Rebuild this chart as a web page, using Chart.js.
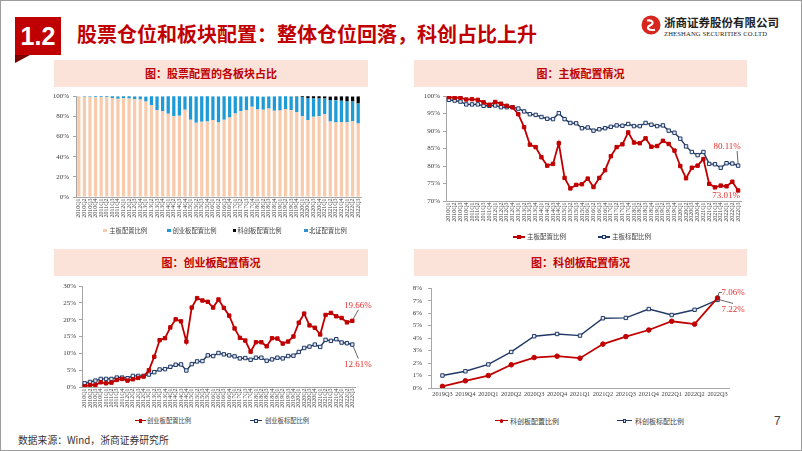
<!DOCTYPE html>
<html lang="zh"><head><meta charset="utf-8">
<title>股票仓位和板块配置</title>
<script src="https://cdn.jsdelivr.net/npm/chart.js@4.4.1/dist/chart.umd.min.js"></script>
<style>
*{box-sizing:border-box}
html,body{margin:0;padding:0;background:#fff}
#slide{position:relative;width:802px;height:451px;overflow:hidden;background:#fff;font-family:"Noto Sans CJK SC","Noto Sans",sans-serif}
#frame{position:absolute;left:0;top:0;width:802px;height:451px;border:1px solid #9c9c9c;pointer-events:none;z-index:10}
.abs{position:absolute}
#num{left:15px;top:17px;width:46px;height:38px;background:#c00000;color:#fff;font:bold 25px "Liberation Sans",Arial,sans-serif;line-height:38px;text-align:center}
#fold{left:15px;top:55px;width:0;height:0;border-top:8px solid #7a0000;border-right:15px solid transparent}
#title{left:77px;top:20px;font-size:20px;font-weight:bold;color:#c00000;line-height:28px;white-space:nowrap}
#co{left:664px;top:15px;font-size:11.5px;font-weight:bold;color:#222;line-height:14px;white-space:nowrap}
#coen{left:664px;top:30px;font:6.6px "Liberation Serif",serif;color:#222;line-height:8px;white-space:nowrap;letter-spacing:0.15px}
.tb{position:absolute;height:27px;line-height:27px;background:#fbe3da;color:#c00000;font-size:11px;font-weight:bold;text-align:center}
.lgt{color:#404040;white-space:nowrap}
#src{left:18px;top:432px;font-size:9.8px;color:#333;line-height:16px;white-space:nowrap}
#pg{left:774px;top:413px;font:12px "Liberation Sans",Arial,sans-serif;color:#444;line-height:16px}
canvas{position:absolute}
</style>
</head>
<body>
<div id="slide">
  <div id="frame"></div>
  <div id="num" class="abs">1.2</div>
  <div id="fold" class="abs"></div>
  <div id="title" class="abs">股票仓位和板块配置：整体仓位回落，科创占比上升</div>
  <svg class="abs" style="left:641px;top:15px" width="20" height="20" viewBox="0 0 20 20">
    <circle cx="10" cy="10" r="9.5" fill="#d7261e"/>
    <path d="M6 5.5 C 12 4.5, 13.5 8.5, 9 10.5 C 5 12.5, 7 15.8, 14 14.8" stroke="#fff" stroke-width="2.2" fill="none"/>
  </svg>
  <div id="co" class="abs">浙商证券股份有限公司</div>
  <div id="coen" class="abs">ZHESHANG SECURITIES CO.LTD</div>

  <div class="tb" style="left:54px;top:60px;width:314px">图：股票配置的各板块占比</div>
  <div class="tb" style="left:414px;top:60px;width:333px">图：主板配置情况</div>
  <div class="tb" style="left:54px;top:249px;width:314px">图：创业板配置情况</div>
  <div class="tb" style="left:414px;top:249px;width:333px">图：科创板配置情况</div>

  <canvas id="c1" width="332" height="136" style="left:40px;top:88px"></canvas>
  <canvas id="c2" width="342" height="140" style="left:410px;top:88px"></canvas>
  <canvas id="c3" width="332" height="136" style="left:40px;top:278px"></canvas>
  <canvas id="c4" width="350" height="136" style="left:400px;top:278px"></canvas>

  <div id="src" class="abs">数据来源：Wind，浙商证券研究所</div>
  <div id="pg" class="abs">7</div>
</div>
<script>
// ---------------- DATA ----------------
const quarters = ['2010Q1','2010Q2','2010Q3','2010Q4','2011Q1','2011Q2','2011Q3','2011Q4',
  '2012Q1','2012Q2','2012Q3','2012Q4','2013Q1','2013Q2','2013Q3','2013Q4',
  '2014Q1','2014Q2','2014Q3','2014Q4','2015Q1','2015Q2','2015Q3','2015Q4',
  '2016Q1','2016Q2','2016Q3','2016Q4','2017Q1','2017Q2','2017Q3','2017Q4',
  '2018Q1','2018Q2','2018Q3','2018Q4','2019Q1','2019Q2','2019Q3','2019Q4',
  '2020Q1','2020Q2','2020Q3','2020Q4','2021Q1','2021Q2','2021Q3','2021Q4',
  '2022Q1','2022Q2','2022Q3'];

// 主板配置比例 (%)
const mainAlloc = [99.7,99.5,99.5,99.0,99.1,98.9,98.2,97.5,98.3,97.8,97.2,96.8,94.8,91.1,86.1,85.4,
  82.5,80.1,80.6,86.5,76.6,73.6,74.6,74.8,76.4,74.0,76.6,78.8,82.8,85.4,86.2,89.6,
  86.7,86.5,87.9,85.5,85.7,87.2,86.3,84.4,80.0,76.5,79.5,80.1,82.0,74.9,73.9,74.4,
  74.2,75.5,73.01];
// 主板标配比例 (%)
const mainBench = [98.9,98.7,98.4,97.6,97.6,97.6,97.2,97.2,97.3,96.8,96.8,96.8,96.4,95.6,94.8,94.6,
  94.0,93.5,93.4,95.1,93.4,92.3,92.2,90.8,91.0,90.1,90.5,90.8,91.2,91.6,91.5,92.0,
  91.4,91.4,92.3,91.8,91.4,91.6,90.1,89.5,87.8,85.6,84.0,83.1,84.0,80.6,80.5,79.5,
  80.8,80.7,80.11];
// 创业板配置比例 (%)
const gemAlloc = [0.2,0.6,0.6,1.4,1.1,1.3,2.1,2.4,1.9,2.3,2.7,3.1,5.0,9.0,13.9,14.5,
  17.7,20.1,19.5,13.5,23.6,26.4,25.7,25.3,23.6,26.0,23.5,21.2,17.4,14.6,13.8,10.5,
  13.3,13.3,12.1,14.5,14.4,12.9,13.5,15.0,19.1,21.8,18.3,17.6,15.6,21.4,22.0,21.0,
  20.5,19.2,19.66];
// 创业板标配比例 (%)
const gemBench = [1.1,1.5,1.9,2.4,2.4,2.4,2.8,2.8,2.6,3.3,3.3,3.3,3.7,4.4,5.2,5.3,
  6.0,6.6,6.7,4.9,6.8,7.6,7.7,9.4,9.2,10.1,9.7,9.4,9.1,8.5,8.6,8.1,
  8.7,8.7,7.8,8.2,8.7,8.5,9.2,9.3,10.4,11.6,12.0,12.6,11.9,14.0,13.7,14.2,
  13.2,13.0,12.61];

// 科创板 (from 2019Q3)
const starQuarters = ['2019Q3','2019Q4','2020Q1','2020Q2','2020Q3','2020Q4','2021Q1',
  '2021Q2','2021Q3','2021Q4','2022Q1','2022Q2','2022Q3'];
const starAlloc = [0.13,0.58,1.0,1.86,2.44,2.55,2.39,3.52,4.12,4.65,5.35,5.12,7.22];
const starBench = [1.0,1.34,1.89,2.89,4.15,4.33,4.2,5.59,5.62,6.33,5.85,6.27,7.06];

// 北证 (from 2021Q4)
const northQuarters = ['2021Q4','2022Q1','2022Q2','2022Q3'];
const northAlloc = [0.04,0.08,0.10,0.11];

const yTicks1 = {min:0,max:100,step:10};
const yTicks2 = {min:70,max:100,step:5};
const yTicks3 = {min:0,max:30,step:5};
const yTicks4 = {min:0,max:8,step:1};

// ---------------- STYLE ----------------
const SERIF = '"Liberation Serif","Times New Roman",serif';
const RED = '#c00000', NAVY = '#1f3864';
const LBL = '#e0302e';

// align a shorter series onto the full quarter axis
function onAxis(labels, values){
  return quarters.map(q => { const i = labels.indexOf(q); return i < 0 ? null : values[i]; });
}

function yAxis(t, width, pad){
  return {min:t.min,max:t.max,
    ticks:{stepSize:t.step,callback:v=>v+'%',font:{family:SERIF,size:7},color:'#404040',padding:pad},
    grid:{display:true,drawOnChartArea:false,drawTicks:true,tickLength:3,color:'#a6a6a6'},
    border:{display:true,color:'#a6a6a6',width:1},
    afterFit:s=>{s.width=width;}};
}
function xAxis(height, size, rot, pad){
  return {offset:true,
    ticks:{autoSkip:false,maxRotation:rot,minRotation:rot,font:{family:SERIF,size:size},color:'#404040',padding:pad},
    grid:{display:false,drawTicks:false,tickLength:0},
    border:{display:true,color:'#a6a6a6',width:1},
    afterFit:s=>{s.height=height;}};
}

const annotPlugin = {
  id:'annot',
  afterDatasetsDraw(chart, args, opts){
    const ctx = chart.ctx;
    (opts.items||[]).forEach(it=>{
      const el = chart.getDatasetMeta(it.ds).data[it.idx];
      if(!el) return;
      const px = el.x, py = el.y;
      ctx.save();
      if(it.line){
        ctx.strokeStyle = '#404040'; ctx.lineWidth = 0.8;
        ctx.beginPath();
        it.line.forEach((p,k)=>{ k ? ctx.lineTo(px+p[0],py+p[1]) : ctx.moveTo(px+p[0],py+p[1]); });
        ctx.stroke();
      }
      ctx.font = '9px ' + SERIF;
      ctx.fillStyle = LBL; ctx.textAlign = 'center'; ctx.textBaseline = 'middle';
      ctx.fillText(it.text, px+it.dx, py+it.dy);
      ctx.restore();
    });
  }
};

const base = {responsive:false,animation:false,devicePixelRatio:1,events:[]};
const noLegend = {legend:{display:false},tooltip:{enabled:false}};

// ---------------- CHART 1 ----------------
new Chart(document.getElementById('c1'), {
  type:'bar',
  data:{labels:quarters, datasets:[
    {label:'主板配置比例', data:mainAlloc, backgroundColor:'#f8cbad'},
    {label:'创业板配置比例', data:gemAlloc, backgroundColor:'#1e9ad6'},
    {label:'科创板配置比例', data:onAxis(starQuarters, starAlloc), backgroundColor:'#000000'},
    {label:'北证配置比例', data:onAxis(northQuarters, northAlloc), backgroundColor:'#2f8fd0'}
  ].map(d=>Object.assign(d,{barPercentage:0.58,categoryPercentage:1.0,borderWidth:0}))},
  options:Object.assign({}, base, {
    layout:{padding:{top:8,right:11,left:0,bottom:0}},
    scales:{x:Object.assign(xAxis(27,6,90,1.5),{stacked:true}), y:Object.assign(yAxis(yTicks1,36,4),{stacked:true})},
    plugins:noLegend
  })
});

function lineDs(label, data, color, width, style, fill, r){
  return {label, data, borderColor:color, borderWidth:width, tension:0,
    pointStyle:style, pointRadius:r, pointBackgroundColor:fill, pointBorderColor:color, pointBorderWidth:1};
}

// ---------------- CHART 2 ----------------
new Chart(document.getElementById('c2'), {
  type:'line',
  plugins:[annotPlugin],
  data:{labels:quarters, datasets:[
    lineDs('主板配置比例', mainAlloc, RED, 1.8, 'rect', RED, 2.4),
    lineDs('主板标配比例', mainBench, NAVY, 1.4, 'rect', '#e6ebf3', 2.4)
  ]},
  options:Object.assign({}, base, {
    layout:{padding:{top:8,right:11,left:0,bottom:0}},
    scales:{x:xAxis(27,6,90,1.5), y:yAxis(yTicks2,36,3)},
    plugins:Object.assign({}, noLegend, {annot:{items:[
      {ds:1, idx:50, text:mainBench[50].toFixed(2)+'%', dx:-11, dy:-18.5, line:[[0,-2],[-1,-14.5]]},
      {ds:0, idx:50, text:mainAlloc[50].toFixed(2)+'%', dx:-12, dy:5}
    ]}})
  })
});

// ---------------- CHART 3 ----------------
new Chart(document.getElementById('c3'), {
  type:'line',
  plugins:[annotPlugin],
  data:{labels:quarters, datasets:[
    lineDs('创业板配置比例', gemAlloc, RED, 1.8, 'rect', RED, 2.4),
    lineDs('创业板标配比例', gemBench, NAVY, 1.4, 'rect', '#e6ebf3', 2.4)
  ]},
  options:Object.assign({}, base, {
    layout:{padding:{top:8,right:17,left:0,bottom:0}},
    scales:{x:xAxis(27,6,90,1.5), y:yAxis(yTicks3,42,3)},
    plugins:Object.assign({}, noLegend, {annot:{items:[
      {ds:0, idx:50, text:gemAlloc[50].toFixed(2)+'%', dx:5.6, dy:-15.3, line:[[1,-2],[6,-11]]},
      {ds:1, idx:50, text:gemBench[50].toFixed(2)+'%', dx:5.6, dy:19.6, line:[[1,2],[6,14]]}
    ]}})
  })
});

// ---------------- CHART 4 ----------------
new Chart(document.getElementById('c4'), {
  type:'line',
  plugins:[annotPlugin],
  data:{labels:starQuarters, datasets:[
    lineDs('科创板配置比例', starAlloc, RED, 1.8, 'circle', RED, 2.3),
    lineDs('科创板标配比例', starBench, NAVY, 1.4, 'rect', '#e6ebf3', 2.4)
  ]},
  options:Object.assign({}, base, {
    layout:{padding:{top:8,right:21,left:0,bottom:0}},
    scales:{x:xAxis(26,6.3,0,3), y:yAxis(yTicks4,31,6)},
    plugins:Object.assign({}, noLegend, {annot:{items:[
      {ds:1, idx:12, text:starBench[12].toFixed(2)+'%', dx:15.6, dy:-7, line:[[0,-1],[1.5,-7.5],[4.5,-7.5]]},
      {ds:0, idx:12, text:starAlloc[12].toFixed(2)+'%', dx:15.6, dy:11.3, line:[[1,1.5],[15.5,5.5]]}
    ]}})
  })
});

// ---------------- HTML LEGENDS ----------------
const slide = document.getElementById('slide');
function el(css){ const d=document.createElement('div'); d.className='abs'; d.style.cssText=css; slide.appendChild(d); return d; }
function legend(items, fs, cy){
  items.forEach(it=>{
    if(it.type==='box'){
      el(`left:${it.x}px;top:${cy-1.8}px;width:3.6px;height:3.6px;background:${it.color}`);
    } else {
      el(`left:${it.x}px;top:${cy-0.8}px;width:${it.w}px;height:1.6px;background:${it.color}`);
      const mx = it.x + it.w/2 - 1.9;
      if(it.type==='dot') el(`left:${mx}px;top:${cy-1.9}px;width:3.8px;height:3.8px;border-radius:50%;background:${it.color}`);
      else el(`left:${mx}px;top:${cy-1.9}px;width:3.8px;height:3.8px;background:${it.fill};border:1px solid ${it.color}`);
    }
    const t = el(`left:${it.tx}px;top:${cy-fs*0.72}px;font-size:${fs}px;line-height:${fs*1.44}px`);
    t.classList.add('lgt');
    t.textContent = it.text;
  });
}
legend([
  {type:'box', x:103.3, tx:109.3, color:'#f8cbad', text:'主板配置比例'},
  {type:'box', x:167.3, tx:172.5, color:'#1e9ad6', text:'创业板配置比例'},
  {type:'box', x:232.7, tx:237.5, color:'#000000', text:'科创板配置比例'},
  {type:'box', x:304.0, tx:309.0, color:'#2f8fd0', text:'北证配置比例'}
], 6.3, 230.7);
legend([
  {type:'line', x:513, w:12, tx:527, color:RED, fill:RED, text:'主板配置比例'},
  {type:'line', x:598, w:12, tx:612, color:NAVY, fill:'#e6ebf3', text:'主板标配比例'}
], 6.5, 237);
legend([
  {type:'line', x:135, w:11, tx:147, color:RED, fill:RED, text:'创业板配置比例'},
  {type:'line', x:250, w:12, tx:265, color:NAVY, fill:'#e6ebf3', text:'创业板标配比例'}
], 6.3, 420.7);
legend([
  {type:'dot', x:495, w:13, tx:510, color:RED, text:'科创板配置比例'},
  {type:'line', x:617, w:15, tx:635, color:NAVY, fill:'#e6ebf3', text:'科创板标配比例'}
], 7, 420.7);
</script>
</body></html>
